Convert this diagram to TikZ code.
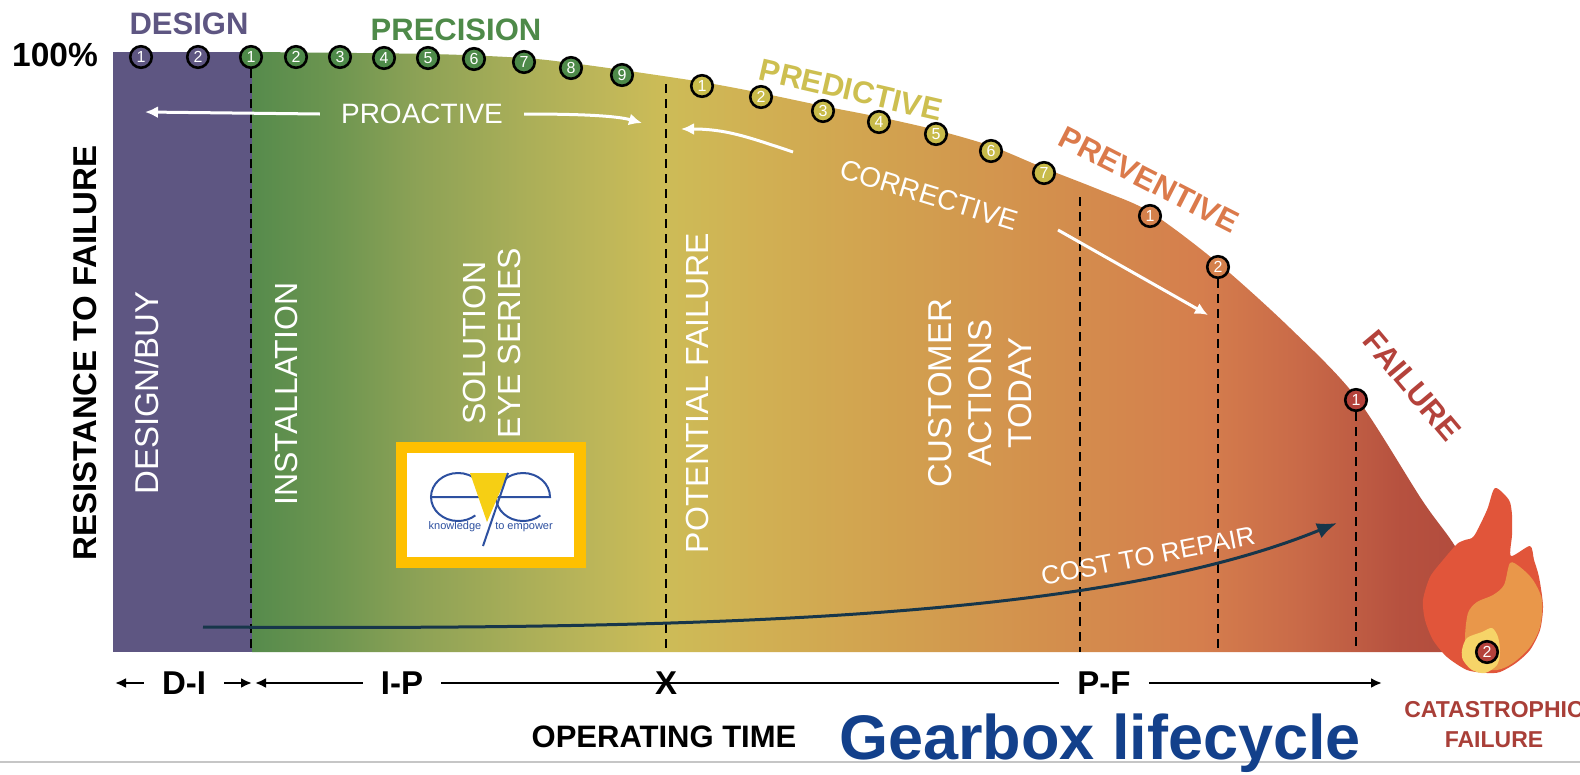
\documentclass[tikz,border=0pt]{standalone}
\usepackage{fontspec}
\setmainfont{Liberation Sans}
\usetikzlibrary{arrows.meta}

\definecolor{design}{HTML}{5E5682}
\definecolor{precis}{HTML}{4E8A49}
\definecolor{predict}{HTML}{CDBF50}
\definecolor{predictdot}{HTML}{C8BB4A}
\definecolor{prevent}{HTML}{DB7A4B}
\definecolor{preventdot}{HTML}{D4804B}
\definecolor{fail}{HTML}{B4423B}
\definecolor{catas}{HTML}{A93F38}
\definecolor{gearblue}{HTML}{13408B}
\definecolor{costline}{HTML}{17364A}
\definecolor{logoframe}{HTML}{FEC000}
\definecolor{logotri}{HTML}{F6CF14}
\definecolor{logoblue}{HTML}{2D50A0}
\definecolor{flameR}{HTML}{E1553A}
\definecolor{flameO}{HTML}{E9974A}
\definecolor{flameY}{HTML}{F6D468}
\definecolor{gA}{HTML}{568B4C}
\definecolor{gB}{HTML}{6C9550}
\definecolor{gC}{HTML}{8DA256}
\definecolor{gD}{HTML}{A9AE58}
\definecolor{gE}{HTML}{BDB659}
\definecolor{gF}{HTML}{CDBC57}
\definecolor{gG}{HTML}{D1B053}
\definecolor{gH}{HTML}{D2A04F}
\definecolor{gI}{HTML}{D38F4D}
\definecolor{gJ}{HTML}{D57E4D}
\definecolor{gK}{HTML}{C96A48}
\definecolor{gL}{HTML}{B6513F}
\definecolor{gM}{HTML}{AE463B}

\pgfdeclarehorizontalshading{lifeshade}{100bp}{color(0bp)=(gA); color(25bp)=(gA);
  color(28.1bp)=(gB); color(31.6bp)=(gC); color(35.6bp)=(gD); color(38.7bp)=(gE);
  color(41.3bp)=(gF); color(45bp)=(gG); color(50.6bp)=(gH); color(56.5bp)=(gI);
  color(62.4bp)=(gJ); color(66.3bp)=(gK); color(70.3bp)=(gL); color(75bp)=(gM);
  color(100bp)=(gM)}

\newcommand\fsz[1]{\fontsize{#1}{#1}\selectfont}

\begin{document}
\begin{tikzpicture}[x=1pt,y=-1pt,
  dot/.style={circle,draw=black,line width=2.6pt,minimum size=21.5pt,inner sep=0pt,text=white,font=\fsz{16}},
  stage/.style={font=\fsz{31}\bfseries},
  side/.style={rotate=90,text=white,font=\fsz{32},align=center},
  guide/.style={draw=black,line width=2.2pt,dash pattern=on 9pt off 6pt},
  flow/.style={draw=white,line width=3pt,-{Latex[length=13pt,width=12pt]}},
  timeline/.style={draw=black,line width=2.4pt},
  tick/.style={font=\fsz{33}\bfseries,inner xsep=18pt,inner ysep=0pt},
  tip/.style={-{Latex[length=11pt,width=10pt]}}]
\useasboundingbox (0,0) rectangle (1580,774);
\fill[white] (0,0) rectangle (1580,774);

% resistance curve
\coordinate (floor) at (0,652);
\fill[design] (113,52) rectangle (252,652);
\begin{scope}
  \clip plot[smooth,tension=0.5] coordinates {(252,52) (430,54) (524,58) (571,63) (622,70) (702,82)
    (761,93) (823,106) (879,117) (936,130) (991,146) (1044,168) (1100,190) (1150,212) (1218,263)
    (1290,328) (1356,397) (1422,500) (1453,543) (1480,590) (1500,652)} -- (252,652) -- cycle;
  \shade[shading=lifeshade] (252,40) rectangle (1520,660);
\end{scope}

% stage markers
\foreach \n/\x/\y in {1/141/57,2/198/57}
  \node[dot,fill=design] (de\n) at (\x,\y) {\n};
\foreach \n/\x/\y in {1/251/57,2/296/57,3/340/57,4/384/58,5/428/58,6/474/59,7/524/62,8/571/68,9/622/75}
  \node[dot,fill=precis] (pr\n) at (\x,\y) {\n};
\foreach \n/\x/\y in {1/702/86,2/761/97,3/823/111,4/879/122,5/936/134,6/991/151,7/1044/173}
  \node[dot,fill=predictdot] (pd\n) at (\x,\y) {\n};
\foreach \n/\x/\y in {1/1150/216,2/1218/267}
  \node[dot,fill=preventdot] (pv\n) at (\x,\y) {\n};
\node[dot,fill=fail] (fl1) at (1356,400) {1};

\coordinate (px) at (666,84);
\coordinate (pf) at (1080,197);
\draw[guide] (pr1.south) -- (pr1.south |- floor);
\draw[guide] (px) -- (px |- floor);
\draw[guide] (pf) -- (pf |- floor);
\draw[guide] (pv2.south) -- (pv2.south |- floor);
\draw[guide] (fl1.south) -- (fl1.south |- floor);

% labels
\node[font=\fsz{33.5}\bfseries] (full) at (55,55) {100\%};
\node[rotate=90,font=\fsz{33}\bfseries] (ylab) at (85,353) {RESISTANCE TO FAILURE};
\node[stage,text=design] (lde) at (189,24) {DESIGN};
\node[stage,text=precis] (lpr) at (456,30) {PRECISION};
\node[stage,text=predict,rotate=-13] (lpd) at (851,90) {PREDICTIVE};
\node[stage,text=prevent,rotate=-27] (lpv) at (1149,180) {PREVENTIVE};
\node[stage,text=fail,rotate=-50] (lfl) at (1412,386) {FAILURE};

\node[side,font=\fsz{33}] (buy) at (147,393) {DESIGN/BUY};
\node[side] (inst) at (286,394) {INSTALLATION};
\node[side,font=\fontsize{32}{35}\selectfont] (sol) at (492,343) {SOLUTION\\EYE SERIES};
\node[side] (pot) at (697,393) {POTENTIAL FAILURE};
\node[side,font=\fontsize{33}{40}\selectfont] (cust) at (980,393) {CUSTOMER\\ACTIONS\\TODAY};

% maintenance arrows
\node[text=white,font=\fsz{28},inner xsep=21pt] (proact) at (422,114) {PROACTIVE};
\node[text=white,font=\fsz{28},rotate=-17] (corr) at (929,195) {CORRECTIVE};
\node[text=white,font=\fsz{26},rotate=11] (cost) at (1148,556) {COST TO REPAIR};
\coordinate (pa0) at (145,112);
\coordinate (pa1) at (642,123);
\coordinate (ca0) at (793,152);
\coordinate (ca1) at (681,129);
\coordinate (cb0) at (1058,230);
\coordinate (cb1) at (1208,315);
\draw[flow] (proact.west) -- (pa0);
\draw[flow] (proact.east) .. controls +(60,0) and +(-25,-7) .. (pa1);
\draw[flow] (ca0) .. controls +(-45,-15) and +(45,0) .. (ca1);
\draw[flow] (cb0) -- (cb1);

\coordinate (c0) at (203,627);
\coordinate (c1) at (1337,523);
\draw[costline,line width=3pt,-{Latex[length=20pt,width=16pt]}] (c0) .. controls (700,630) and (1100,620) .. (c1);

% logo
\fill[logoframe] (396,442) rectangle (586,568);
\fill[white] (407,453) rectangle (574,557);
\draw[logoblue,line width=2pt] (431,497) -- (485,497) arc[start angle=0,end angle=-310,x radius=27,y radius=24];
\draw[logoblue,line width=2pt] (496,497) -- (550,497) arc[start angle=0,end angle=-310,x radius=27,y radius=24];
\fill[logotri] (470,473) -- (508,473) -- (487,522) -- cycle;
\draw[logoblue,line width=2pt] (508,473) -- (483,546);
\node[text=logoblue,font=\fsz{11}] (kn) at (455,527) {knowledge};
\node[text=logoblue,font=\fsz{11}] (te) at (524,527) {to empower};

% flame
\fill[flameR] plot[smooth cycle,tension=0.45] coordinates {(1495,488) (1509,500) (1512,515) (1512,535)
  (1511,556) (1530,546) (1534,560) (1539,577) (1543,606) (1540,630) (1530,650) (1516,663) (1500,672)
  (1487,673) (1467,670) (1447,657) (1433,640) (1425,620) (1423,600) (1430,577) (1443,560) (1457,544)
  (1465,540) (1474,536) (1487,510)};
\fill[flameO] plot[smooth cycle,tension=0.5] coordinates {(1510,563) (1520,567) (1533,580) (1542,600)
  (1540,627) (1530,647) (1513,663) (1497,670) (1477,668) (1467,657) (1465,637) (1468,613) (1477,602)
  (1493,595) (1504,585)};
\fill[flameY] plot[smooth cycle,tension=0.5] coordinates {(1462,650) (1467,638) (1482,632) (1492,628)
  (1498,637) (1500,652) (1497,665) (1485,673) (1472,670) (1463,660)};
\node[dot,fill=fail] (ct2) at (1487,652) {2};
\node[align=center,text=catas,font=\fontsize{23}{30}\selectfont\bfseries] (cat) at (1494,725) {CATASTROPHIC\\FAILURE};

% time axis
\node[tick] (DI) at (184,683) {D-I};
\node[tick] (IP) at (402,683) {I-P};
\node[tick] (PF) at (1104,683) {P-F};
\coordinate (di0) at (115,683);
\coordinate (di1) at (252,683);
\coordinate (ip0) at (255,683);
\coordinate (pf1) at (1382,683);
\draw[timeline,tip] (DI.west) -- (di0);
\draw[timeline,tip] (DI.east) -- (di1);
\draw[timeline,tip] (IP.west) -- (ip0);
\draw[timeline] (IP.east) -- (PF.west);
\draw[timeline,tip] (PF.east) -- (pf1);
\node[tick,inner xsep=0pt] (xm) at (666,683) {X};
\node[font=\fsz{31}\bfseries] (optime) at (664,737) {OPERATING TIME};

\draw[gray!45,line width=1.2pt] (0,762) -- (1580,762);
\node[anchor=base,text=gearblue,font=\fsz{63}\bfseries] (title) at (1100,759) {Gearbox lifecycle};
\end{tikzpicture}
\end{document}
